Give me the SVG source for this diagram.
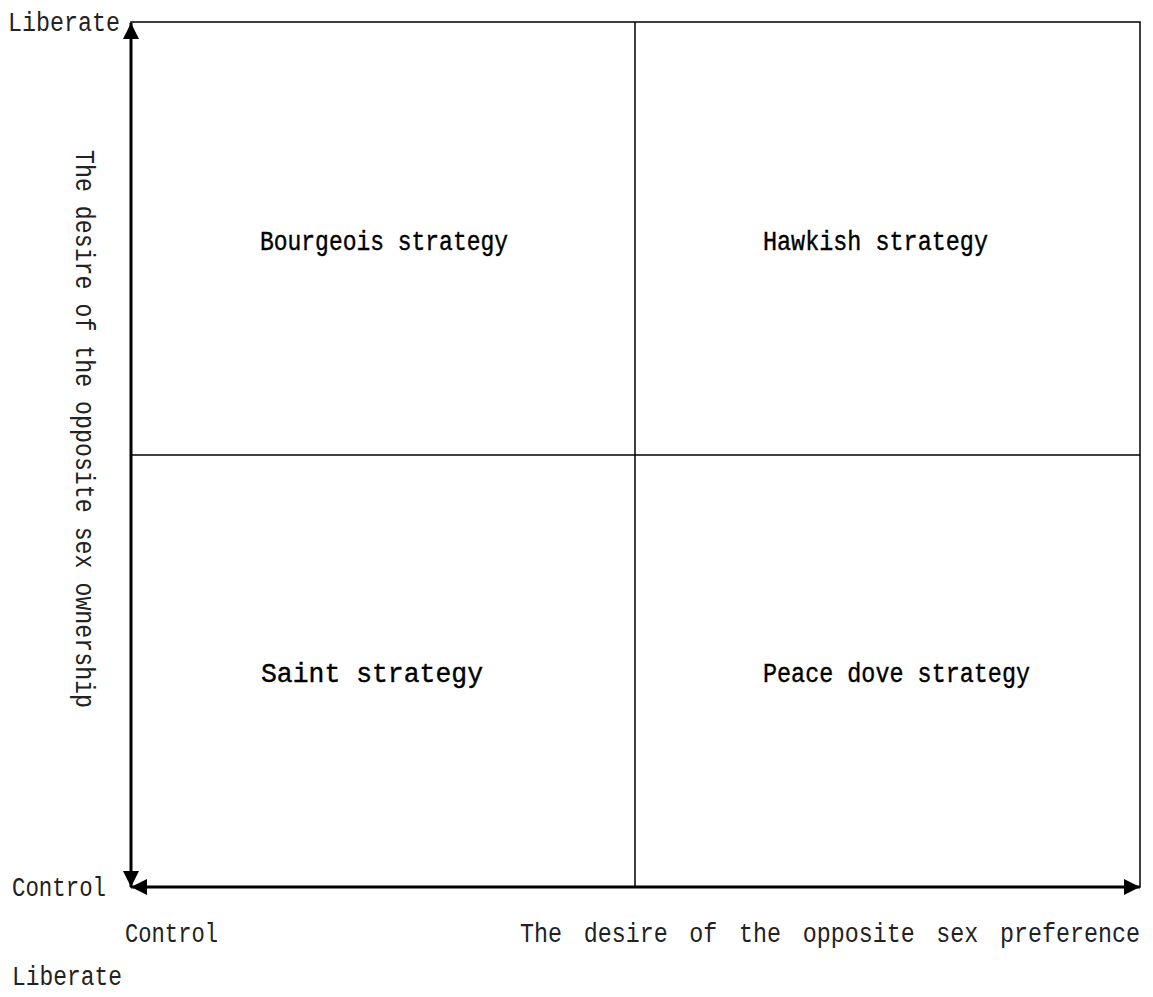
<svg xmlns="http://www.w3.org/2000/svg" width="1153" height="997" viewBox="0 0 1153 997">
<style>
.frame{fill:none;stroke:#000;stroke-width:1.5}
.axis{fill:none;stroke:#000;stroke-width:3}
.lbl{font-family:"Liberation Mono","Noto Sans CJK SC",monospace;font-size:27px;fill:#222}
.node{font-family:"Liberation Mono","Noto Sans CJK SC",monospace;font-size:27px;fill:#000;stroke:#000;stroke-width:0.4}
</style>
<defs>
<marker id="ah" markerUnits="userSpaceOnUse" markerWidth="18" markerHeight="16" refX="16" refY="8" orient="auto-start-reverse">
<path d="M0,0 L16,8 L0,16 Z" fill="#000"/>
</marker>
</defs>
<rect fill="#fff" x="0" y="0" width="1153" height="997"/>
<g id="grid">
<rect class="frame" x="131" y="22" width="1009" height="865"/>
<line class="frame" x1="635" y1="22" x2="635" y2="887"/>
<line class="frame" x1="131" y1="455" x2="1140" y2="455"/>
</g>
<g id="connectors">
<line class="axis" x1="131" y1="887" x2="131" y2="23" marker-start="url(#ah)" marker-end="url(#ah)"/>
<line class="axis" x1="131" y1="887" x2="1140" y2="887" marker-start="url(#ah)" marker-end="url(#ah)"/>
</g>
<g id="node-bourgeois"><text class="node" x="260" y="250" textLength="248" lengthAdjust="spacingAndGlyphs">Bourgeois strategy</text></g>
<g id="node-hawkish"><text class="node" x="763" y="250" textLength="225" lengthAdjust="spacingAndGlyphs">Hawkish strategy</text></g>
<g id="node-saint"><text class="node" x="261" y="682" textLength="222" lengthAdjust="spacingAndGlyphs">Saint strategy</text></g>
<g id="node-dove"><text class="node" x="763" y="682" textLength="267" lengthAdjust="spacingAndGlyphs">Peace dove strategy</text></g>
<g id="labels">
<text class="lbl" x="8" y="31" textLength="112" lengthAdjust="spacingAndGlyphs">Liberate</text>
<text class="lbl" x="12" y="896" textLength="94" lengthAdjust="spacingAndGlyphs">Control</text>
<text class="lbl" x="125" y="942" textLength="93" lengthAdjust="spacingAndGlyphs">Control</text>
<text class="lbl" transform="translate(520,942) scale(0.864,1)" y="0"><tspan x="0">The</tspan><tspan x="73.7">desire</tspan><tspan x="195.9">of</tspan><tspan x="253.5">the</tspan><tspan x="327.2">opposite</tspan><tspan x="481.8">sex</tspan><tspan x="555.6">preference</tspan></text>
<text class="lbl" x="12" y="985" textLength="110" lengthAdjust="spacingAndGlyphs">Liberate</text>
<text class="lbl" transform="translate(76,150) rotate(90)" x="0" y="0" textLength="558" lengthAdjust="spacingAndGlyphs">The desire of the opposite sex ownership</text>
</g>
</svg>
